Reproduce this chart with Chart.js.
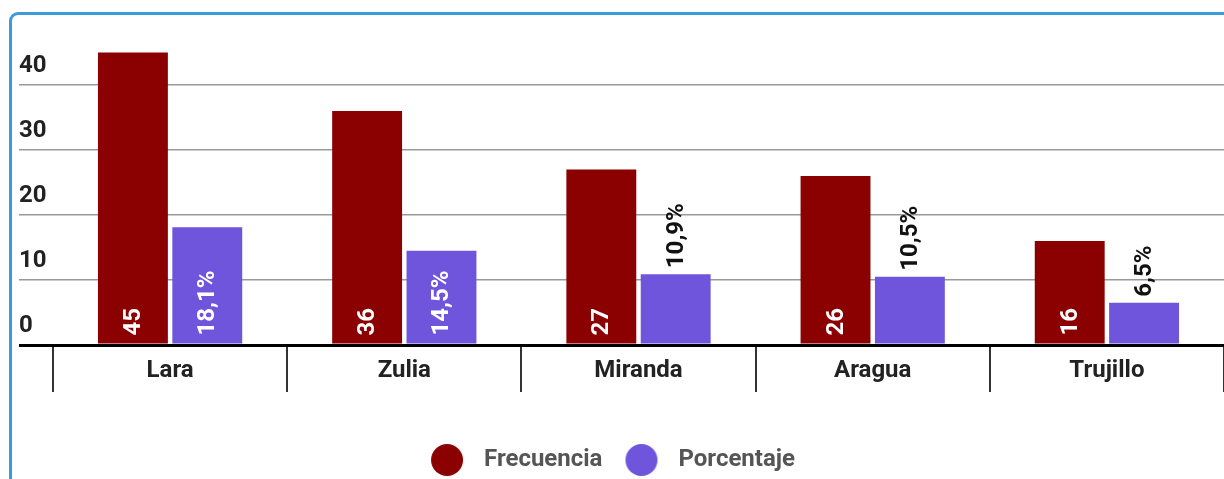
<!DOCTYPE html>
<html lang="es">
<head>
<meta charset="utf-8">
<script src="https://cdn.jsdelivr.net/npm/chart.js@4"></script>
<style>
  html, body { margin: 0; padding: 0; background: #fff; overflow: hidden; }
  .tarjeta { position: absolute; left: 9px; top: 12px; width: 1300px; height: 600px; border: 3px solid #3d9bd8; border-radius: 9px; box-sizing: border-box; }
  .contenedor { position: absolute; left: 0; top: 0; width: 1224px; height: 479px; }
</style>
</head>
<body>
<div class="tarjeta"></div>
<div class="contenedor"><canvas id="grafico"></canvas></div>
<script>
// datos
const estados = ['Lara', 'Zulia', 'Miranda', 'Aragua', 'Trujillo'];
const frecuencia = [45, 36, 27, 26, 16];
const porcentaje = [18.1, 14.5, 10.9, 10.5, 6.5];
const ticksY = [0, 10, 20, 30, 40];

const colorFrec = '#8b0000';
const colorPorc = '#6e55dc';

// textos de las barras
const textos = [
  frecuencia.map(String),
  porcentaje.map(v => v.toFixed(1).replace('.', ',') + '%')
];

Chart.defaults.font.family = 'Roboto';

// circulo de la leyenda (desplazado a la izquierda para dejar aire antes del texto)
function circuloLeyenda(color) {
  const c = document.createElement('canvas');
  c.width = 60; c.height = 34;
  const g = c.getContext('2d');
  g.fillStyle = color;
  g.beginPath();
  g.arc(17, 17, 16, 0, Math.PI * 2);
  g.fill();
  return c;
}
const imagenes = [circuloLeyenda(colorFrec), circuloLeyenda(colorPorc)];

// etiquetas verticales sobre/dentro de las barras
const etiquetasBarras = {
  id: 'etiquetasBarras',
  afterDatasetsDraw(chart) {
    const ctx = chart.ctx;
    ctx.save();
    ctx.font = 'bold 24px Roboto';
    ctx.textBaseline = 'middle';
    ctx.textAlign = 'left';
    chart.data.datasets.forEach((ds, i) => {
      chart.getDatasetMeta(i).data.forEach((barra, j) => {
        const texto = textos[i][j];
        const ancho = ctx.measureText(texto).width;
        const alto = barra.base - barra.y;
        ctx.save();
        if (ancho + 14 < alto) {
          ctx.translate(barra.x, barra.base - 8);
          ctx.fillStyle = '#fff';
        } else {
          ctx.translate(barra.x, barra.y - 6);
          ctx.fillStyle = '#111';
        }
        ctx.rotate(-Math.PI / 2);
        ctx.fillText(texto, 0, 1);
        ctx.restore();
      });
    });
    ctx.restore();
  }
};

const grafico = new Chart(document.getElementById('grafico'), {
  type: 'bar',
  data: {
    labels: estados,
    datasets: [{
      label: 'Frecuencia',
      data: frecuencia,
      backgroundColor: colorFrec,
      categoryPercentage: 0.635,
      barPercentage: 0.94
    }, {
      label: 'Porcentaje',
      data: porcentaje,
      backgroundColor: colorPorc,
      categoryPercentage: 0.635,
      barPercentage: 0.94
    }]
  },
  options: {
    responsive: true,
    maintainAspectRatio: false,
    animation: false,
    layout: { padding: { left: 19, top: 20, right: 0, bottom: -3 } },
    plugins: {
      tooltip: { enabled: false },
      legend: {
        position: 'bottom',
        labels: {
          usePointStyle: true,
          padding: 40,
          color: '#555',
          font: { size: 24, weight: 'bold' },
          generateLabels(chart) {
            const items = Chart.defaults.plugins.legend.labels.generateLabels(chart);
            items.forEach((it, i) => { it.pointStyle = imagenes[i]; });
            return items;
          }
        }
      }
    },
    scales: {
      x: {
        grid: { offset: true, drawOnChartArea: false, drawTicks: true, tickLength: 47, color: '#333', lineWidth: 2 },
        border: { display: false },
        ticks: { padding: -35, color: '#222', font: { size: 24, weight: 'bold' } },
        afterFit(s) { s.height = 63; }
      },
      y: {
        min: 0,
        max: 50,
        ticks: {
          stepSize: 10,
          crossAlign: 'far',
          labelOffset: -19,
          padding: 0,
          color: '#222',
          font: { size: 24, weight: 'bold' },
          callback: v => ticksY.includes(v) ? v : ''
        },
        grid: {
          tickLength: 34,
          color: c => c.tick.value === 0 ? '#000' : (ticksY.includes(c.tick.value) ? '#999' : 'rgba(0,0,0,0)'),
          lineWidth: c => c.tick.value === 0 ? 3 : 1.5
        },
        border: { display: false },
        afterFit(s) { s.width = 34; }
      }
    }
  },
  plugins: [etiquetasBarras]
});
</script>
</body>
</html>
